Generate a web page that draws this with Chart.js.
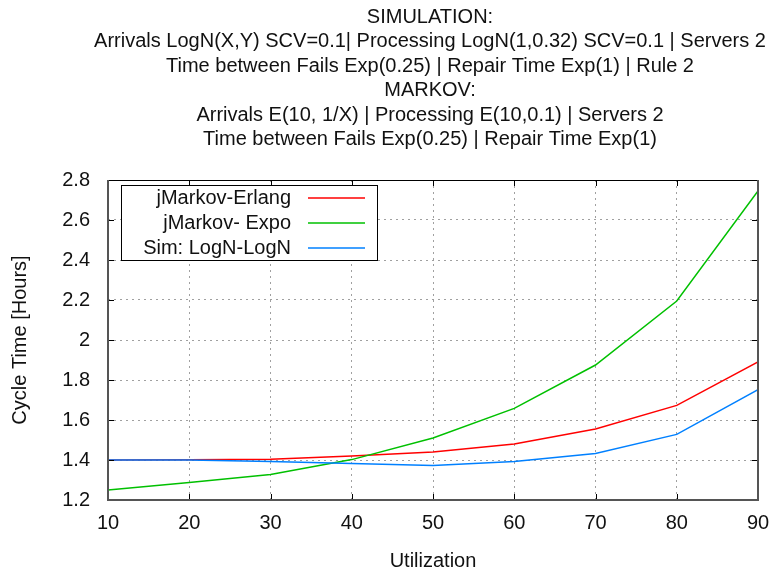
<!DOCTYPE html>
<html lang="en">
<head>
<meta charset="UTF-8" />
<title>Cycle Time vs Utilization</title>
<script src="https://cdn.jsdelivr.net/npm/chart.js@4.4.0/dist/chart.umd.min.js"></script>
<style>
  html, body { margin: 0; padding: 0; background: #fff; }
  #wrap { width: 772px; height: 573px; }
</style>
</head>
<body>
<div id="wrap"><canvas id="chart" width="772" height="573"></canvas></div>
<script>
// values
const utilization = [10, 20, 30, 40, 50, 60, 70, 80, 90];
const erlang = [1.40, 1.401, 1.404, 1.42, 1.44, 1.48, 1.555, 1.673, 1.89];
const expo = [1.25, 1.287, 1.328, 1.402, 1.51, 1.658, 1.875, 2.195, 2.745];
const simLogN = [1.40, 1.40, 1.392, 1.383, 1.373, 1.392, 1.433, 1.528, 1.752];
const yTicks = [1.2, 1.4, 1.6, 1.8, 2, 2.2, 2.4, 2.6, 2.8];
const xTicks = [10, 20, 30, 40, 50, 60, 70, 80, 90];
const titleLines = [
  'SIMULATION:',
  'Arrivals LogN(X,Y) SCV=0.1| Processing LogN(1,0.32) SCV=0.1 | Servers 2',
  'Time between Fails Exp(0.25) | Repair Time Exp(1) | Rule 2',
  'MARKOV:',
  'Arrivals E(10, 1/X) | Processing E(10,0.1) | Servers 2',
  'Time between Fails Exp(0.25) | Repair Time Exp(1)'
];

const FONT = '"Liberation Sans", Arial, sans-serif';
const FS = 20;

function pts(ys) {
  return utilization.map((x, i) => ({ x: x, y: ys[i] }));
}

// title centred over the plot (it is wider than the plot, so drawn by hand)
const titlePlugin = {
  id: 'bigTitle',
  afterDraw(chart) {
    const ctx = chart.ctx;
    const a = chart.chartArea;
    ctx.save();
    ctx.font = FS + 'px ' + FONT;
    ctx.fillStyle = '#111';
    ctx.textAlign = 'center';
    ctx.textBaseline = 'middle';
    const cx = (a.left + a.right) / 2 - 3;
    titleLines.forEach((t, i) => ctx.fillText(t, cx, 17 + i * 24.5));
    ctx.restore();
  }
};

// gnuplot style frame, inward ticks and boxed legend
const framePlugin = {
  id: 'frame',
  afterDraw(chart) {
    const ctx = chart.ctx;
    const a = chart.chartArea;
    const xs = chart.scales.x, ys = chart.scales.y;
    ctx.save();
    ctx.lineWidth = 1;
    ctx.strokeStyle = '#000';
    // ticks
    ctx.beginPath();
    xTicks.forEach(v => {
      const px = Math.round(xs.getPixelForValue(v)) + 0.5;
      ctx.moveTo(px, a.bottom); ctx.lineTo(px, a.bottom - 6);
      ctx.moveTo(px, a.top); ctx.lineTo(px, a.top + 6);
    });
    yTicks.forEach(v => {
      const py = Math.round(ys.getPixelForValue(v)) + 0.5;
      ctx.moveTo(a.left, py); ctx.lineTo(a.left + 6, py);
      ctx.moveTo(a.right, py); ctx.lineTo(a.right - 6, py);
    });
    ctx.stroke();
    // frame
    ctx.beginPath();
    ctx.moveTo(a.left, a.top + 0.5); ctx.lineTo(a.right, a.top + 0.5);
    ctx.stroke();
    ctx.strokeStyle = '#555';
    ctx.lineWidth = 2;
    ctx.beginPath();
    ctx.moveTo(a.left, a.top); ctx.lineTo(a.left, a.bottom);
    ctx.lineTo(a.right, a.bottom); ctx.lineTo(a.right, a.top);
    ctx.stroke();

    // legend
    const lx = a.left + 13, ly = a.top + 5, lw = 256, lh = 75;
    ctx.fillStyle = '#fff';
    ctx.fillRect(lx, ly, lw, lh);
    ctx.lineWidth = 1;
    ctx.strokeStyle = '#000';
    ctx.strokeRect(lx + 0.5, ly + 0.5, lw, lh);
    ctx.font = FS + 'px ' + FONT;
    ctx.textAlign = 'right';
    ctx.textBaseline = 'middle';
    chart.data.datasets.forEach((ds, i) => {
      const cy = ly + 13 + i * 25;
      ctx.fillStyle = '#111';
      ctx.fillText(ds.label, lx + 170, cy);
      ctx.strokeStyle = ds.borderColor;
      ctx.lineWidth = 1.5;
      ctx.beginPath();
      ctx.moveTo(lx + 187, cy); ctx.lineTo(lx + 244, cy);
      ctx.stroke();
    });
    ctx.restore();
  }
};

new Chart(document.getElementById('chart'), {
  type: 'line',
  data: {
    datasets: [
      { label: 'jMarkov-Erlang', data: pts(erlang), borderColor: '#ff0000', order: 2 },
      { label: 'jMarkov- Expo', data: pts(expo), borderColor: '#00c000', order: 1 },
      { label: 'Sim: LogN-LogN', data: pts(simLogN), borderColor: '#0080ff', order: 0 }
    ]
  },
  options: {
    responsive: false,
    devicePixelRatio: 1,
    animation: false,
    datasets: {
      line: { borderWidth: 1.5, pointRadius: 0, tension: 0, fill: false }
    },
    layout: { padding: { left: 0, right: 14, top: 180, bottom: 0 } },
    plugins: {
      legend: { display: false },
      tooltip: { enabled: false },
      title: { display: false }
    },
    scales: {
      x: {
        type: 'linear',
        min: 10,
        max: 90,
        afterBuildTicks: s => { s.ticks = xTicks.map(v => ({ value: v })); },
        afterFit: s => { s.height = 73; s.paddingLeft = 0; s.paddingRight = 0; },
        grid: { color: '#a0a0a0', drawTicks: false, lineWidth: 1 },
        border: { display: false, dash: [2, 4] },
        ticks: { color: '#111', padding: 11, maxRotation: 0, font: { family: FONT, size: FS } },
        title: {
          display: true, text: 'Utilization', color: '#111',
          font: { family: FONT, size: FS }, padding: { top: 10, bottom: 0 }
        }
      },
      y: {
        min: 1.2,
        max: 2.8,
        afterBuildTicks: s => { s.ticks = yTicks.map(v => ({ value: v })); },
        afterFit: s => { s.width = 108; s.paddingTop = 0; s.paddingBottom = 0; },
        grid: { color: '#a0a0a0', drawTicks: false, lineWidth: 1 },
        border: { display: false, dash: [2, 4] },
        ticks: {
          color: '#111', padding: 18, font: { family: FONT, size: FS },
          callback: v => String(+v.toFixed(1))
        },
        title: {
          display: true, text: 'Cycle Time [Hours]', color: '#111',
          font: { family: FONT, size: FS }, padding: { top: 8, bottom: 0 }
        }
      }
    }
  },
  plugins: [titlePlugin, framePlugin]
});
</script>
</body>
</html>
